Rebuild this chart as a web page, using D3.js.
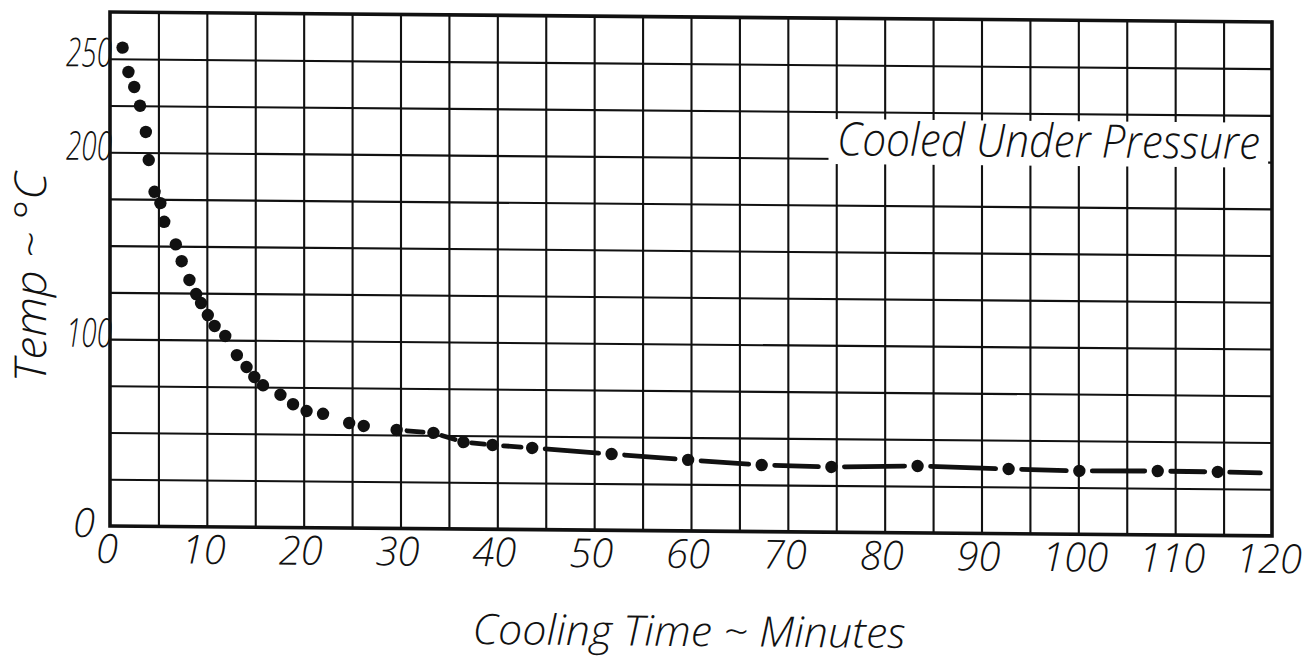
<!DOCTYPE html>
<html>
<head>
<meta charset="utf-8">
<script src="https://cdn.jsdelivr.net/npm/d3@7"></script>
<style>
  html, body { margin: 0; padding: 0; background: #fff; }
  svg { display: block; }
  text { font-family: "Open Sans", "DejaVu Sans", sans-serif; font-style: italic; font-weight: 300; fill: #111; }
</style>
</head>
<body>
<svg id="chart" width="1303" height="663"></svg>
<script>
// ---- data ----
const coolTime = [1.3, 1.9, 2.5, 3.1, 3.7, 4.0, 4.6, 5.2, 5.6, 6.8, 7.4, 8.2, 8.9, 9.4, 10.1, 10.8, 11.9,
  13.1, 14.1, 14.9, 15.8, 17.6, 18.9, 20.3, 22.0, 24.7, 26.2, 29.6, 33.4, 36.5, 39.5, 43.6, 51.8,
  59.7, 67.3, 74.5, 83.4, 92.8, 100.1, 108.2, 114.4];
const coolTemp = [256, 243, 235, 225, 211, 196, 179, 173, 163, 151, 142, 132, 124.5, 119.7, 113.3, 107.5, 102.2,
  92, 85.7, 80.4, 76, 71, 66, 62.4, 61, 56.2, 54.7, 52.7, 51.3, 46.5, 45.1, 43.7, 40.8,
  38, 35.6, 34.9, 35.8, 34.6, 33.9, 34.2, 34];
const dashedFrom = 29.6;           // dashed curve starts at this time
const curveEndTime = 118.8;        // the dashed curve runs on past the last point
const curveEndTemp = 33.7;
const xTickLabels = [0, 10, 20, 30, 40, 50, 60, 70, 80, 90, 100, 110, 120];
const xLabelText = ["0", "10", "20", "30", "40", "50", "60", "70", "80", "90", "100", "110", "120"];
const yTickLabels = [250, 200, 100, 0];
const xGridStep = 5, yGridStep = 25;
const xMax = 120, yMax = 275;
const annotation = "Cooled Under Pressure";
const annotationBox = { t0: 74.2, t1: 119.6, T0: 197, T1: 221 };
const xTitle = "Cooling Time ~ Minutes";
const yTitle = "Temp ~ °C";

// ---- layout ----
const svg = d3.select("#chart");
const L = 110, R = 1272, T = 12, B = 526;
const x = d3.scaleLinear().domain([0, xMax]).range([L, R]);
const y = d3.scaleLinear().domain([0, yMax]).range([B, T]);

// the original sheet is slightly sheared
const g = svg.append("g").attr("transform", `translate(${L},0) skewY(0.49) translate(${-L},0)`);

// grid
const xGrid = d3.range(xGridStep, xMax, xGridStep);
const yGrid = d3.range(yGridStep, yMax, yGridStep);
g.append("g")
  .attr("transform", `translate(0,${B})`)
  .call(d3.axisBottom(x).tickValues(xGrid).tickSize(-(B - T)).tickFormat(""))
  .call(s => s.select(".domain").remove())
  .call(s => s.selectAll("line").attr("stroke", "#111").attr("stroke-width", 2.1));
g.append("g")
  .attr("transform", `translate(${L},0)`)
  .call(d3.axisLeft(y).tickValues(yGrid).tickSize(-(R - L)).tickFormat(""))
  .call(s => s.select(".domain").remove())
  .call(s => s.selectAll("line").attr("stroke", "#111").attr("stroke-width", 2.1));

// border
g.append("rect")
  .attr("x", L).attr("y", T).attr("width", R - L).attr("height", B - T)
  .attr("fill", "none").attr("stroke", "#111").attr("stroke-width", 3.6);

// annotation with white background
g.append("rect")
  .attr("x", x(annotationBox.t0)).attr("y", y(annotationBox.T1))
  .attr("width", x(annotationBox.t1) - x(annotationBox.t0))
  .attr("height", y(annotationBox.T0) - y(annotationBox.T1))
  .attr("fill", "#fff");
g.append("text")
  .attr("x", 837).attr("y", 149)
  .attr("font-size", 46)
  .attr("textLength", 423).attr("lengthAdjust", "spacingAndGlyphs")
  .text(annotation);

// dashed curve segments (a dash between successive points)
const pts = coolTime.map((t, i) => ({ t, T: coolTemp[i] }));
const dashPts = pts.filter(p => p.t >= dashedFrom).concat([{ t: curveEndTime, T: curveEndTemp, end: true }]);
const segs = [];
for (let i = 0; i < dashPts.length - 1; i++) {
  const a = dashPts[i], b = dashPts[i + 1];
  const x1 = x(a.t), y1 = y(a.T), x2 = x(b.t), y2 = y(b.T);
  const len = Math.hypot(x2 - x1, y2 - y1);
  const g1 = Math.min(13, len * 0.28), g2 = b.end ? 0 : Math.min(13, len * 0.28);
  const ux = (x2 - x1) / len, uy = (y2 - y1) / len;
  segs.push({ x1: x1 + ux * g1, y1: y1 + uy * g1, x2: x2 - ux * g2, y2: y2 - uy * g2 });
}
g.append("g").selectAll("line").data(segs).join("line")
  .attr("x1", d => d.x1).attr("y1", d => d.y1).attr("x2", d => d.x2).attr("y2", d => d.y2)
  .attr("stroke", "#111").attr("stroke-width", 4.8).attr("stroke-linecap", "round");

// points
g.append("g").selectAll("circle").data(pts).join("circle")
  .attr("cx", d => x(d.t)).attr("cy", d => y(d.T)).attr("r", 6.2)
  .attr("fill", "#111");

// x tick labels
g.append("g").selectAll("text").data(xTickLabels).join("text")
  .attr("x", d => x(d) - 3).attr("y", 563)
  .attr("text-anchor", "middle")
  .attr("font-size", 40)
  .text((d, i) => xLabelText[i]);

// y tick labels
g.append("g").selectAll("text").data(yTickLabels).join("text")
  .attr("x", d => d === 0 ? 95 : L + 2)
  .attr("y", d => d === 0 ? y(d) + 11 : y(d) + 8)
  .attr("text-anchor", "end")
  .attr("font-size", 40)
  .attr("textLength", d => d === 0 ? 22 : 46)
  .attr("lengthAdjust", "spacingAndGlyphs")
  .text(d => d);

// axis titles
g.append("text")
  .attr("x", 689).attr("y", 641)
  .attr("text-anchor", "middle")
  .attr("font-size", 42)
  .attr("textLength", 433).attr("lengthAdjust", "spacingAndGlyphs")
  .text(xTitle);
g.append("text")
  .attr("transform", `translate(46,278) rotate(-90)`)
  .attr("text-anchor", "middle")
  .attr("font-size", 44)
  .attr("textLength", 210).attr("lengthAdjust", "spacingAndGlyphs")
  .text(yTitle);
</script>
</body>
</html>
